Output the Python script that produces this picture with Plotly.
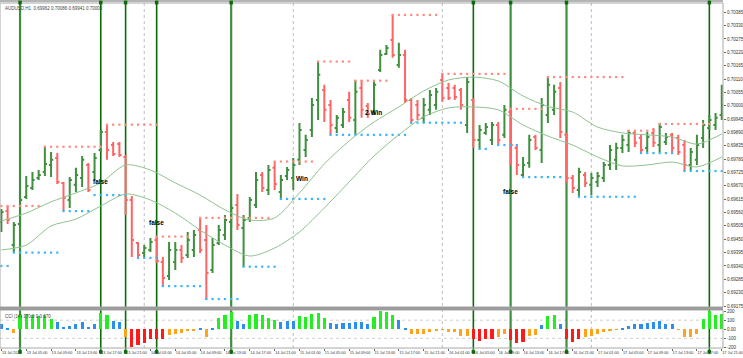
import plotly.graph_objects as go

# ---------------- data ----------------
bar_index = list(range(117))

open_ = [
    0.69521, 0.69566, 0.69426, 0.69513, 0.69624, 0.69661, 0.69702, 0.69727, 0.69756, 0.69785,
    0.69682, 0.69612, 0.69674, 0.69702, 0.69756, 0.69727, 0.69818, 0.69892, 0.69838, 0.69842,
    0.69789, 0.69612, 0.69435, 0.69393, 0.69406, 0.69447, 0.69356, 0.69299, 0.69356, 0.69406,
    0.69385, 0.69406, 0.69488, 0.69447, 0.69323, 0.69435, 0.69468, 0.69521, 0.69591, 0.69496,
    0.69538, 0.69591, 0.69715, 0.69653, 0.69744, 0.69645, 0.69711, 0.69702, 0.69777, 0.69818,
    0.69900, 0.70024, 0.70065, 0.70003, 0.69908, 0.69921, 0.70024, 0.69941, 0.70073, 0.69999,
    0.69974, 0.70147, 0.70213, 0.70271, 0.70168, 0.70209, 0.70024, 0.70003, 0.69950, 0.69983,
    0.70003, 0.70106, 0.70073, 0.70073, 0.70065, 0.69921, 0.70024, 0.69859, 0.69888, 0.69859,
    0.69921, 0.69880, 0.69974, 0.69826, 0.69715, 0.69764, 0.69871, 0.69818, 0.69962, 0.69983,
    0.70073, 0.69880, 0.69702, 0.69653, 0.69715, 0.69674, 0.69686, 0.69702, 0.69756, 0.69777,
    0.69826, 0.69838, 0.69888, 0.69867, 0.69826, 0.69888, 0.69838, 0.69851, 0.69880, 0.69867,
    0.69838, 0.69756, 0.69777, 0.69867, 0.69908, 0.69921, 0.69962,
]
high = [
    0.69575, 0.69587, 0.69521, 0.69620, 0.69711, 0.69727, 0.69735, 0.69834, 0.69809, 0.69805,
    0.69686, 0.69706, 0.69744, 0.69793, 0.69764, 0.69805, 0.69900, 0.69925, 0.69851, 0.69851,
    0.69797, 0.69628, 0.69439, 0.69426, 0.69455, 0.69459, 0.69377, 0.69439, 0.69439, 0.69426,
    0.69480, 0.69488, 0.69542, 0.69509, 0.69455, 0.69509, 0.69550, 0.69591, 0.69636, 0.69550,
    0.69624, 0.69727, 0.69727, 0.69756, 0.69768, 0.69715, 0.69748, 0.69785, 0.69929, 0.69880,
    0.70032, 0.70180, 0.70086, 0.70024, 0.69962, 0.69991, 0.70057, 0.70106, 0.70106, 0.70011,
    0.70106, 0.70230, 0.70250, 0.70374, 0.70259, 0.70230, 0.70032, 0.70024, 0.70032, 0.70065,
    0.70073, 0.70135, 0.70094, 0.70086, 0.70073, 0.70118, 0.70032, 0.69921, 0.69929, 0.69933,
    0.69933, 0.70003, 0.69987, 0.69838, 0.69789, 0.69880, 0.69880, 0.70032, 0.70118, 0.70086,
    0.70098, 0.69888, 0.69715, 0.69744, 0.69727, 0.69723, 0.69727, 0.69768, 0.69838, 0.69847,
    0.69880, 0.69900, 0.69896, 0.69880, 0.69892, 0.69908, 0.69929, 0.69888, 0.69888, 0.69880,
    0.69859, 0.69826, 0.69880, 0.69941, 0.69962, 0.69970, 0.70086,
]
low = [
    0.69480, 0.69513, 0.69397, 0.69505, 0.69616, 0.69653, 0.69694, 0.69711, 0.69706, 0.69678,
    0.69566, 0.69579, 0.69645, 0.69665, 0.69645, 0.69694, 0.69809, 0.69777, 0.69793, 0.69789,
    0.69550, 0.69377, 0.69373, 0.69377, 0.69397, 0.69352, 0.69253, 0.69282, 0.69323, 0.69352,
    0.69373, 0.69377, 0.69393, 0.69200, 0.69311, 0.69426, 0.69447, 0.69496, 0.69488, 0.69336,
    0.69521, 0.69579, 0.69645, 0.69632, 0.69653, 0.69620, 0.69694, 0.69653, 0.69756, 0.69789,
    0.69871, 0.69941, 0.69933, 0.69880, 0.69888, 0.69908, 0.69933, 0.69880, 0.69950, 0.69950,
    0.69962, 0.70139, 0.70209, 0.70197, 0.70156, 0.70011, 0.69929, 0.69941, 0.69929, 0.69962,
    0.69983, 0.70016, 0.70024, 0.70024, 0.69983, 0.69888, 0.69826, 0.69822, 0.69880, 0.69838,
    0.69838, 0.69867, 0.69756, 0.69715, 0.69702, 0.69744, 0.69818, 0.69764, 0.69929, 0.69962,
    0.69867, 0.69682, 0.69641, 0.69624, 0.69665, 0.69632, 0.69665, 0.69686, 0.69735, 0.69735,
    0.69805, 0.69809, 0.69830, 0.69805, 0.69809, 0.69830, 0.69809, 0.69838, 0.69809, 0.69797,
    0.69731, 0.69735, 0.69756, 0.69826, 0.69900, 0.69900, 0.69941,
]
close = [
    0.69562, 0.69529, 0.69509, 0.69612, 0.69669, 0.69694, 0.69715, 0.69760, 0.69777, 0.69686,
    0.69620, 0.69694, 0.69715, 0.69777, 0.69653, 0.69785, 0.69892, 0.69818, 0.69801, 0.69797,
    0.69612, 0.69447, 0.69385, 0.69414, 0.69439, 0.69360, 0.69290, 0.69406, 0.69406, 0.69373,
    0.69447, 0.69468, 0.69406, 0.69311, 0.69426, 0.69488, 0.69529, 0.69579, 0.69509, 0.69529,
    0.69612, 0.69694, 0.69661, 0.69735, 0.69678, 0.69694, 0.69735, 0.69756, 0.69900, 0.69859,
    0.70003, 0.70127, 0.69983, 0.69921, 0.69950, 0.69974, 0.69950, 0.70057, 0.69983, 0.69966,
    0.70086, 0.70209, 0.70238, 0.70209, 0.70209, 0.70024, 0.69941, 0.69962, 0.70003, 0.70044,
    0.70057, 0.70032, 0.70032, 0.70036, 0.70003, 0.70098, 0.69859, 0.69900, 0.69912, 0.69921,
    0.69859, 0.69983, 0.69838, 0.69756, 0.69756, 0.69859, 0.69826, 0.70003, 0.70086, 0.70057,
    0.69892, 0.69702, 0.69661, 0.69727, 0.69682, 0.69702, 0.69711, 0.69756, 0.69818, 0.69826,
    0.69859, 0.69888, 0.69847, 0.69818, 0.69871, 0.69847, 0.69912, 0.69871, 0.69826, 0.69809,
    0.69756, 0.69809, 0.69838, 0.69921, 0.69941, 0.69950, 0.70003,
]

# channel (moving averages) read every 4 bars
ma_index = [0, 4, 8, 12, 16, 20, 24, 28, 32, 36, 40, 44, 48, 52, 56, 60, 64, 68, 72, 76,
            80, 84, 88, 92, 96, 100, 104, 108, 112, 116]
ma_upper = [0.69525, 0.69558, 0.69604, 0.69641, 0.69682, 0.69756, 0.69735, 0.69682, 0.69632, 0.69571,
            0.69529, 0.69538, 0.69641, 0.69760, 0.69855, 0.69933, 0.69995, 0.70061, 0.70106, 0.70118,
            0.70102, 0.70040, 0.69997, 0.69974, 0.69912, 0.69888, 0.69880, 0.69871, 0.69842, 0.69884]
ma_lower = [0.69406, 0.69426, 0.69505, 0.69533, 0.69587, 0.69636, 0.69612, 0.69558, 0.69488, 0.69426,
            0.69381, 0.69414, 0.69480, 0.69579, 0.69686, 0.69793, 0.69880, 0.69954, 0.69991, 0.69995,
            0.69983, 0.69921, 0.69875, 0.69838, 0.69789, 0.69752, 0.69756, 0.69768, 0.69748, 0.69789]

# dotted resistance (red) / support (blue) levels: start bar, end bar, price
res_start = [0, 7, 17, 25, 32, 44, 51, 57, 63, 71, 82, 88, 101, 106]
res_end = [6, 16, 25, 30, 43, 50, 56, 62, 70, 81, 87, 100, 105, 114]
res_price = [0.69587, 0.69831, 0.69922, 0.69461, 0.69538, 0.69770, 0.70182, 0.70103, 0.70374,
             0.70131, 0.69987, 0.70118, 0.69897, 0.69925]
sup_start = [0, 2, 10, 15, 22, 26, 33, 39, 45, 53, 66, 77, 80, 84, 93, 103, 110]
sup_end = [1, 9, 14, 20, 25, 32, 38, 44, 52, 65, 74, 78, 83, 90, 102, 108, 116]
sup_price = [0.69340, 0.69395, 0.69566, 0.69632, 0.69373, 0.69257, 0.69204, 0.69337, 0.69616,
             0.69880, 0.69930, 0.69822, 0.69838, 0.69706, 0.69625, 0.69805, 0.69731]

# signal bars (vertical green lines)
signal_bars = [3, 16, 20, 25, 37, 76, 82, 91, 114]
signal_heavy = [True, False, False, False, True, False, True, True, False]

# day separators
day_sep_bars = [23, 47, 71, 95]

# text marks
mark_text = ["false", "false", "Win", "2 Win", "false"]
mark_x = [16.0, 25.0, 48.4, 59.9, 81.9]
mark_y = [0.69687, 0.69521, 0.69702, 0.69970, 0.69645]

# CCI(14)
cci = [
    54, 10, -43, 152, 163, 156, 145, 152, 116, 83,
    25, 33, 54, 76, 25, 54, 178, 152, 91, 83,
    -83, -192, -174, -149, -110, -112, -105, -65, -54, -40,
    -22, -18, 7, -83, 5, 127, 152, 188, 91, 54,
    152, 163, 152, 127, 105, 80, 91, 91, 141, 134,
    163, 181, 127, 69, 62, 69, 72, 76, 76, 54,
    134, 196, 188, 152, 98, 14, -54, -58, -54, -36,
    -22, -5, -29, -29, -76, -72, -112, -127, -105, -112,
    -90, -54, -120, -156, -145, -72, -65, 43, 141, 152,
    54, -105, -138, -105, -83, -76, -54, -36, -11, -7,
    18, 40, 54, 54, 69, 76, 91, 62, 54, -5,
    -90, -90, -58, 116, 199, 152, 170,
]

# axis ticks
price_ticks = ["0.69175", "0.69230", "0.69285", "0.69340", "0.69395", "0.69450", "0.69505",
               "0.69560", "0.69615", "0.69670", "0.69725", "0.69780", "0.69835", "0.69890",
               "0.69945", "0.70000", "0.70055", "0.70110", "0.70165", "0.70220", "0.70275",
               "0.70330", "0.70385"]
time_tick_bars = list(range(0, 117, 4))
time_tick_labels = [
    "13 Jul 2020", "13 Jul 05:00", "13 Jul 09:00", "13 Jul 13:00", "13 Jul 17:00", "13 Jul 21:00",
    "14 Jul 01:00", "14 Jul 05:00", "14 Jul 09:00", "14 Jul 13:00", "14 Jul 17:00", "14 Jul 21:00",
    "15 Jul 01:00", "15 Jul 05:00", "15 Jul 09:00", "15 Jul 13:00", "15 Jul 17:00", "15 Jul 21:00",
    "16 Jul 01:00", "16 Jul 05:00", "16 Jul 09:00", "16 Jul 13:00", "16 Jul 17:00", "16 Jul 21:00",
    "17 Jul 01:00", "17 Jul 05:00", "17 Jul 09:00", "17 Jul 13:00", "17 Jul 17:00", "17 Jul 21:00",
]
cci_ticks = [200, 100, 0, -100, -200]
cci_tick_labels = ["200", "100", "0.00", "-100", "-200"]

# ---------------- figure ----------------
FONT = "Liberation Sans, Arial, sans-serif"
MAIN_DOM = [0.1185, 0.9971]
CCI_DOM = [0.0, 0.1098]

fig = go.Figure()

# dotted levels
for s, e, p in zip(res_start, res_end, res_price):
    xs = list(range(s, e + 1))
    fig.add_trace(go.Scatter(x=xs, y=[p] * len(xs), mode="markers", xaxis="x", yaxis="y",
                             marker=dict(symbol="square", size=2.2, color="#ff8a80"),
                             hoverinfo="skip", showlegend=False))
for s, e, p in zip(sup_start, sup_end, sup_price):
    xs = list(range(s, e + 1))
    fig.add_trace(go.Scatter(x=xs, y=[p] * len(xs), mode="markers", xaxis="x", yaxis="y",
                             marker=dict(symbol="square", size=2.2, color="#38b6f5"),
                             hoverinfo="skip", showlegend=False))

# channel lines
for ma in (ma_upper, ma_lower):
    fig.add_trace(go.Scatter(x=ma_index, y=ma, mode="lines", xaxis="x", yaxis="y",
                             line=dict(color="#8fc28f", width=1, shape="spline", smoothing=0.8),
                             hoverinfo="skip", showlegend=False))

# OHLC bars
fig.add_trace(go.Ohlc(x=bar_index, open=open_, high=high, low=low, close=close,
                      xaxis="x", yaxis="y", tickwidth=0.35,
                      increasing=dict(line=dict(color="#3f8f3f", width=2)),
                      decreasing=dict(line=dict(color="#ff6464", width=2)),
                      hoverinfo="skip", showlegend=False))

# CCI histogram
def cci_color(v):
    if v > 100:
        return "#22ee22"
    if v >= 0:
        return "#2b8ff0"
    if v >= -100:
        return "#ffa31a"
    return "#ff1a1a"

fig.add_trace(go.Bar(x=bar_index, y=cci, xaxis="x", yaxis="y2", width=0.5,
                     marker=dict(color=[cci_color(v) for v in cci], line=dict(width=0)),
                     hoverinfo="skip", showlegend=False))

shapes = []
# panel frames and separator
shapes.append(dict(type="rect", xref="paper", yref="paper", x0=0, x1=1, y0=MAIN_DOM[0], y1=MAIN_DOM[1],
                   line=dict(color="#a8a8a8", width=1), layer="above"))
shapes.append(dict(type="rect", xref="paper", yref="paper", x0=0, x1=1, y0=CCI_DOM[0], y1=CCI_DOM[1],
                   line=dict(color="#a8a8a8", width=1), layer="above"))
shapes.append(dict(type="rect", xref="paper", yref="paper", x0=0, x1=1, y0=CCI_DOM[1], y1=MAIN_DOM[0],
                   fillcolor="#9c9c9c", line=dict(width=0), layer="above"))
shapes.append(dict(type="line", xref="paper", yref="paper", x0=0, x1=1, y0=1.003, y1=1.003,
                   line=dict(color="#b4b4b4", width=2), layer="above"))
# day separators
for b in day_sep_bars:
    shapes.append(dict(type="line", xref="x", yref="paper", x0=b, x1=b, y0=0, y1=MAIN_DOM[1],
                       line=dict(color="#bdbdbd", width=1, dash="dot"), layer="below"))
# CCI +-100 levels
for lv in (100, -100):
    shapes.append(dict(type="line", xref="paper", yref="y2", x0=0, x1=1, y0=lv, y1=lv,
                       line=dict(color="#cfcfcf", width=1, dash="dot"), layer="below"))
# signal lines
for b, heavy in zip(signal_bars, signal_heavy):
    col = "#3e8e3e" if heavy else "#0b6b0b"
    w = 2.2 if heavy else 1.6
    shapes.append(dict(type="line", xref="x", yref="paper", x0=b, x1=b, y0=-0.017, y1=1.006,
                       line=dict(color=col, width=w), layer="below"))
    for y0, y1 in ((0.993, 1.004), (-0.016, -0.006)):
        shapes.append(dict(type="rect", xref="x", yref="paper", x0=b - 0.28, x1=b + 0.28, y0=y0, y1=y1,
                           fillcolor="#0b6b0b", line=dict(width=0), layer="above"))

annotations = []
for t, x, y in zip(mark_text, mark_x, mark_y):
    annotations.append(dict(text="<b>" + t + "</b>", x=x, y=y, xref="x", yref="y", showarrow=False,
                            font=dict(family=FONT, size=6.5, color="#000000")))
annotations.append(dict(text="AUDUSD,H1  %.5f %.5f %.5f %.5f" % (open_[-1], high[-1], low[-1], close[-1]),
                        x=0.004, y=0.994, xref="paper", yref="paper", xanchor="left", yanchor="top",
                        showarrow=False, font=dict(family=FONT, size=4.5, color="#444444")))
annotations.append(dict(text="CCI (14) %.1f 0.0 %d" % (cci[-1], cci[-1]),
                        x=0.004, y=CCI_DOM[1] - 0.006, xref="paper", yref="paper", xanchor="left",
                        yanchor="top", showarrow=False, font=dict(family=FONT, size=4.5, color="#444444")))

fig.update_layout(
    width=743, height=358,
    margin=dict(l=0, r=20, t=2, b=10),
    paper_bgcolor="white", plot_bgcolor="white",
    showlegend=False, bargap=0,
    shapes=shapes, annotations=annotations,
    xaxis=dict(domain=[0, 1], range=[-0.225, 116.2], anchor="y2", showgrid=False, zeroline=False,
               tickmode="array", tickvals=time_tick_bars, ticktext=time_tick_labels,
               ticks="outside", ticklen=2, tickcolor="#666666", ticklabelposition="outside right",
               tickangle=0, ticklabeloverflow="allow",
               tickfont=dict(family=FONT, size=3.8, color="#333333"),
               rangeslider=dict(visible=False), automargin=False, fixedrange=True),
    yaxis=dict(domain=MAIN_DOM, range=[0.69171, 0.70423], anchor="x", side="right",
               showgrid=False, zeroline=False, tickmode="array",
               tickvals=[float(s) for s in price_ticks], ticktext=price_ticks,
               ticks="outside", ticklen=2, tickcolor="#666666",
               tickfont=dict(family=FONT, size=4.5, color="#333333"), automargin=False),
    yaxis2=dict(domain=CCI_DOM, range=[-207, 212], anchor="x", side="right",
                showgrid=False, zeroline=False, tickmode="array",
                tickvals=cci_ticks, ticktext=cci_tick_labels,
                ticks="outside", ticklen=2, tickcolor="#666666",
                tickfont=dict(family=FONT, size=4.5, color="#333333"), automargin=False),
)

fig.write_html("out.html", config={"displayModeBar": False})

# remove the browser's default page margin so the 743x358 figure fills the window exactly
with open("out.html", "r", encoding="utf-8") as fh:
    page = fh.read()
page = page.replace("<head>", "<head><style>html,body{margin:0;padding:0;overflow:hidden;}</style>", 1)
with open("out.html", "w", encoding="utf-8") as fh:
    fh.write(page)
